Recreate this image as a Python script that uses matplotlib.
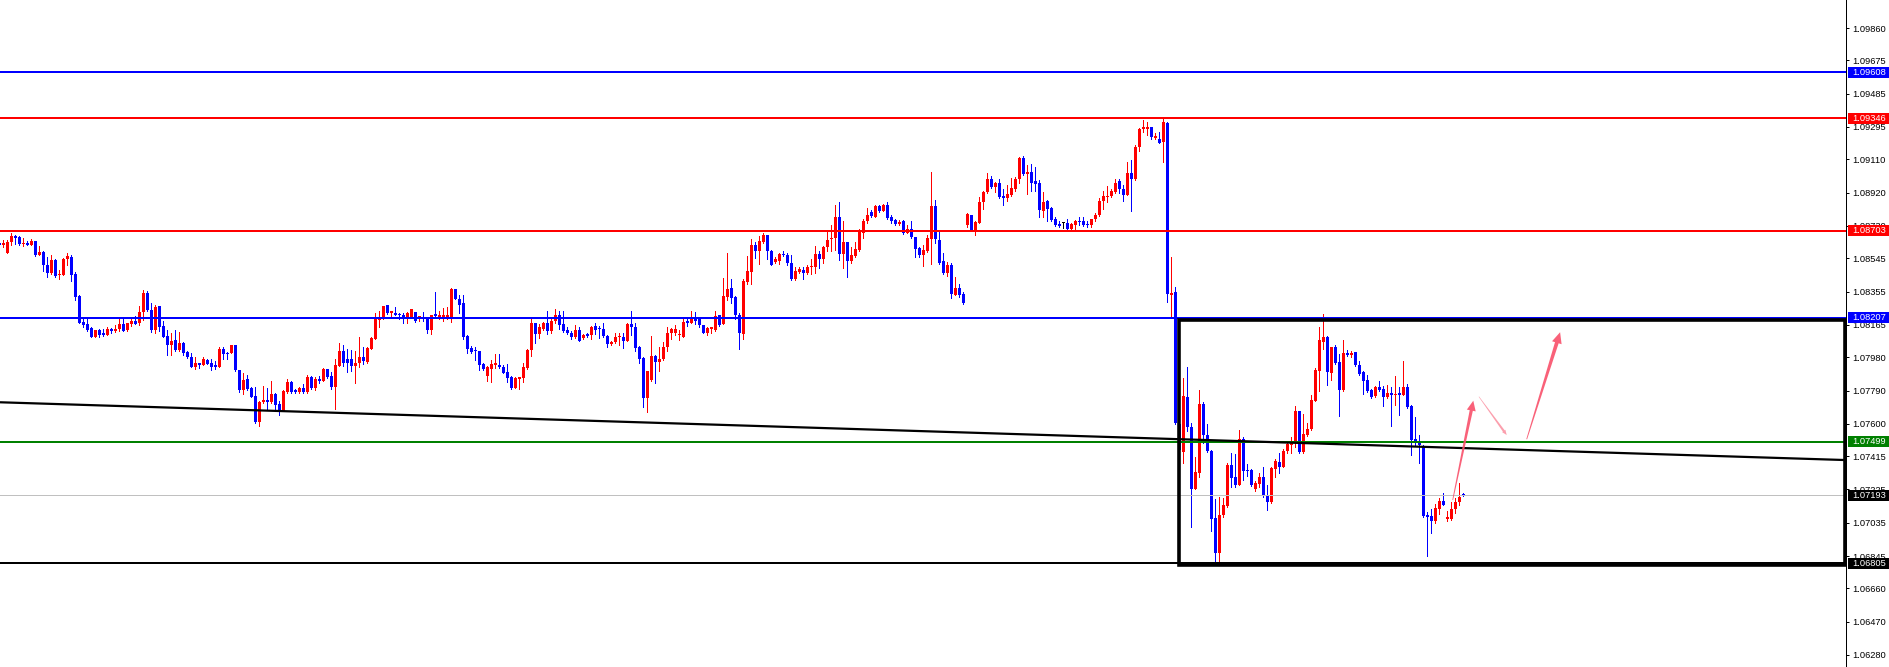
import matplotlib
matplotlib.use("Agg")
import matplotlib.pyplot as plt
import numpy as np
from matplotlib.patches import Rectangle, Polygon
from matplotlib.transforms import blended_transform_factory, IdentityTransform

plt.rcParams["font.family"] = ["Liberation Sans", "DejaVu Sans"]

# candle prices in points (1 point = 0.00001)
open_pts = [
    108635, 108619, 108578, 108638, 108673, 108669, 108627, 108635, 108623, 108642,
    108566, 108581, 108509, 108463, 108536, 108448, 108452, 108539, 108555, 108456,
    108330, 108182, 108170, 108147, 108094, 108136, 108117, 108109, 108140, 108132,
    108140, 108170, 108136, 108170, 108189, 108174, 108239, 108349, 108250, 108136,
    108273, 108159, 108102, 108052, 108079, 108022, 108060, 108010, 107984, 107927,
    107946, 107938, 107965, 107946, 107934, 107927, 108026, 108007, 108003, 108048,
    107907, 107793, 107858, 107804, 107759, 107610, 107724, 107736, 107724, 107770,
    107713, 107671, 107782, 107839, 107793, 107782, 107804, 107782, 107869, 107804,
    107854, 107846, 107911, 107873, 107812, 107930, 108014, 107968, 107968, 107930,
    107945, 107980, 107953, 108029, 108086, 108193, 108208, 108276, 108231, 108235,
    108227, 108223, 108208, 108208, 108238, 108208, 108212, 108200, 108136, 108227,
    108204, 108204, 108204, 108204, 108368, 108314, 108288, 108101, 108033, 108018,
    108014, 107941, 107873, 107915, 107938, 107938, 107927, 107896, 107870, 107805,
    107858, 107862, 107919, 108022, 108174, 108110, 108140, 108174, 108132, 108186,
    108220, 108170, 108136, 108121, 108098, 108136, 108091, 108113, 108106, 108159,
    108144, 108140, 108102, 108056, 108068, 108094, 108094, 108075, 108170, 108155,
    108041, 107976, 107748, 107851, 107988, 107953, 107972, 108037, 108117, 108121,
    108106, 108098, 108186, 108178, 108197, 108197, 108163, 108121, 108140, 108136,
    108220, 108170, 108326, 108376, 108326, 108224, 108113, 108410, 108467, 108619,
    108589, 108638, 108676, 108585, 108524, 108532, 108570, 108566, 108516, 108425,
    108467, 108478, 108459, 108494, 108494, 108570, 108543, 108612, 108653, 108661,
    108779, 108570, 108638, 108532, 108558, 108593, 108692, 108756, 108810, 108783,
    108844, 108817, 108851, 108779, 108764, 108741, 108760, 108692, 108711, 108665,
    108604, 108562, 108585, 108657, 108844, 108650, 108528, 108463, 108509, 108338,
    108376, 108341, 108737, 108791, 108707, 108749, 108867, 108924, 108996, 108954,
    108973, 108901, 108890, 108909, 108943, 108996, 109118, 109027, 109038, 108985,
    108977, 108817, 108874, 108832, 108772, 108741, 108749, 108745, 108715, 108737,
    108756, 108756, 108741, 108734, 108768, 108791, 108870, 108897, 108901, 108924,
    108985, 108943, 108909, 109034, 108996, 109183, 109282, 109285, 109297, 109232,
    109228, 109209, 109320, 108338, 108353, 107600, 107441, 107751, 107580, 107230,
    107321, 107713, 107535, 107447, 107063, 106865, 107078, 107131, 107367, 107299,
    107253, 107515, 107337, 107337, 107230, 107257, 107299, 107196, 107154, 107344,
    107382, 107356, 107443, 107481, 107496, 107675, 107439, 107538, 107569, 107732,
    107900, 108067, 108098, 107892, 108037, 107953, 107793, 108006, 107991, 108010,
    107938, 107896, 107850, 107793, 107759, 107812, 107801, 107755, 107778, 107767,
    107774, 107767, 107809, 107702, 107512, 107504, 107470, 107078, 107074, 107047,
    107116, 107158, 107059, 107059, 107112, 107154, 107200,
]
high_pts = [
    108646, 108650, 108650, 108688, 108680, 108673, 108661, 108646, 108657, 108646,
    108616, 108585, 108551, 108566, 108539, 108479, 108547, 108574, 108562, 108467,
    108334, 108208, 108208, 108151, 108136, 108144, 108140, 108155, 108147, 108163,
    108197, 108197, 108178, 108197, 108216, 108273, 108364, 108357, 108288, 108277,
    108273, 108189, 108136, 108117, 108136, 108125, 108067, 108018, 108003, 107980,
    107949, 107984, 107969, 107969, 107961, 108041, 108041, 108010, 108048, 108052,
    107910, 107890, 107877, 107808, 107812, 107728, 107816, 107804, 107843, 107778,
    107728, 107793, 107854, 107846, 107801, 107812, 107827, 107877, 107873, 107869,
    107873, 107919, 107915, 107896, 107968, 108059, 108048, 108025, 108021, 108018,
    108094, 108037, 108040, 108097, 108231, 108242, 108273, 108280, 108242, 108265,
    108231, 108231, 108238, 108257, 108238, 108215, 108238, 108204, 108223, 108352,
    108246, 108261, 108265, 108375, 108372, 108337, 108333, 108105, 108044, 108037,
    108018, 107945, 107930, 107964, 107999, 107999, 107938, 107942, 107873, 107866,
    107870, 107946, 108030, 108197, 108178, 108170, 108182, 108243, 108208, 108258,
    108247, 108243, 108155, 108129, 108167, 108155, 108110, 108117, 108159, 108178,
    108159, 108174, 108106, 108075, 108117, 108121, 108117, 108174, 108243, 108174,
    108045, 107984, 107900, 108102, 107995, 108037, 108068, 108151, 108148, 108163,
    108136, 108201, 108201, 108243, 108239, 108205, 108167, 108155, 108155, 108243,
    108224, 108433, 108574, 108429, 108330, 108231, 108429, 108558, 108653, 108638,
    108673, 108692, 108680, 108593, 108551, 108574, 108589, 108574, 108562, 108497,
    108494, 108494, 108509, 108543, 108615, 108585, 108615, 108707, 108737, 108851,
    108867, 108756, 108638, 108612, 108638, 108711, 108768, 108832, 108821, 108848,
    108851, 108855, 108867, 108791, 108772, 108764, 108764, 108737, 108760, 108669,
    108608, 108619, 108680, 109038, 108878, 108707, 108574, 108524, 108516, 108437,
    108399, 108353, 108802, 108794, 108760, 108897, 108928, 109030, 109015, 108981,
    109000, 108943, 108966, 109004, 109008, 109126, 109129, 109080, 109084, 109065,
    108992, 108924, 108878, 108840, 108779, 108756, 108749, 108772, 108745, 108764,
    108783, 108779, 108760, 108772, 108802, 108890, 108931, 108958, 108943, 109000,
    109000, 108962, 109095, 109106, 109190, 109289, 109335, 109323, 109297, 109259,
    109266, 109354, 109323, 108555, 108381, 107610, 107860, 107926, 107603, 107413,
    107793, 107725, 107599, 107451, 107169, 107181, 107177, 107378, 107432, 107428,
    107565, 107523, 107371, 107340, 107276, 107321, 107356, 107249, 107356, 107401,
    107436, 107455, 107496, 107527, 107702, 107675, 107656, 107603, 107767, 107919,
    108155, 108227, 108102, 108041, 108052, 107999, 108079, 108022, 108018, 108010,
    107961, 107900, 107877, 107801, 107816, 107847, 107816, 107820, 107812, 107873,
    107809, 107961, 107828, 107706, 107641, 107535, 107481, 107097, 107112, 107142,
    107177, 107203, 107104, 107154, 107177, 107260, 107205,
]
low_pts = [
    108612, 108608, 108574, 108623, 108627, 108619, 108616, 108619, 108619, 108558,
    108562, 108475, 108440, 108456, 108440, 108425, 108448, 108505, 108418, 108307,
    108178, 108151, 108128, 108094, 108094, 108098, 108102, 108106, 108121, 108125,
    108132, 108132, 108132, 108159, 108170, 108163, 108193, 108246, 108125, 108121,
    108132, 108094, 107995, 107991, 108018, 108018, 107995, 107976, 107923, 107911,
    107919, 107938, 107942, 107908, 107915, 107923, 107969, 107972, 108003, 107900,
    107782, 107770, 107793, 107755, 107603, 107587, 107721, 107686, 107721, 107686,
    107652, 107671, 107778, 107778, 107778, 107778, 107774, 107774, 107801, 107793,
    107831, 107843, 107862, 107797, 107686, 107930, 107930, 107896, 107903, 107835,
    107926, 107941, 107945, 108025, 108086, 108155, 108196, 108227, 108212, 108219,
    108196, 108177, 108177, 108208, 108181, 108185, 108189, 108120, 108113, 108208,
    108200, 108185, 108200, 108181, 108311, 108235, 108082, 108002, 108002, 107964,
    107907, 107907, 107846, 107839, 107919, 107919, 107889, 107839, 107801, 107805,
    107801, 107839, 107915, 107988, 108064, 108091, 108136, 108110, 108117, 108178,
    108144, 108125, 108110, 108083, 108091, 108071, 108087, 108098, 108087, 108110,
    108091, 108098, 108037, 108049, 108064, 108049, 108033, 108071, 108106, 108018,
    107946, 107698, 107668, 107847, 107832, 107904, 107965, 108014, 108087, 108106,
    108079, 108094, 108159, 108174, 108170, 108155, 108117, 108106, 108117, 108132,
    108159, 108170, 108307, 108292, 108201, 108026, 108086, 108399, 108399, 108547,
    108513, 108631, 108543, 108505, 108516, 108513, 108558, 108509, 108421, 108421,
    108459, 108429, 108456, 108456, 108463, 108490, 108516, 108589, 108589, 108593,
    108535, 108490, 108440, 108516, 108555, 108589, 108661, 108749, 108779, 108779,
    108810, 108813, 108768, 108749, 108737, 108737, 108684, 108688, 108661, 108555,
    108555, 108501, 108581, 108513, 108634, 108513, 108456, 108444, 108319, 108334,
    108326, 108284, 108722, 108703, 108680, 108745, 108829, 108916, 108947, 108924,
    108890, 108851, 108874, 108901, 108931, 108977, 109019, 108912, 108931, 108931,
    108783, 108779, 108760, 108760, 108730, 108722, 108718, 108715, 108703, 108711,
    108734, 108730, 108726, 108726, 108760, 108787, 108825, 108867, 108893, 108920,
    108920, 108874, 108905, 108817, 108992, 109160, 109266, 109251, 109224, 109224,
    109202, 109095, 108296, 108210, 107599, 107420, 107375, 107561, 107009, 107226,
    107299, 107493, 107439, 106990, 106811, 106808, 107070, 107123, 107241, 107241,
    107249, 107280, 107302, 107245, 107215, 107241, 107181, 107108, 107150, 107299,
    107321, 107352, 107436, 107432, 107466, 107436, 107436, 107531, 107565, 107729,
    107789, 108029, 107824, 107850, 107942, 107645, 107789, 107987, 107984, 107930,
    107881, 107770, 107782, 107748, 107751, 107786, 107702, 107748, 107588, 107706,
    107652, 107763, 107691, 107424, 107474, 107378, 107070, 106846, 106979, 107036,
    107085, 107135, 107047, 107051, 107089, 107139, 107190,
]
close_pts = [
    108619, 108635, 108638, 108673, 108661, 108627, 108635, 108623, 108642, 108566,
    108581, 108505, 108459, 108536, 108444, 108456, 108543, 108558, 108452, 108326,
    108178, 108166, 108136, 108094, 108136, 108109, 108109, 108140, 108132, 108144,
    108170, 108132, 108174, 108189, 108170, 108239, 108345, 108250, 108136, 108265,
    108155, 108098, 108048, 108075, 108022, 108060, 108007, 107980, 107927, 107946,
    107938, 107969, 107942, 107927, 107927, 108026, 107999, 107999, 108048, 107907,
    107793, 107850, 107801, 107755, 107610, 107724, 107736, 107724, 107770, 107709,
    107671, 107785, 107839, 107782, 107782, 107804, 107782, 107865, 107804, 107858,
    107846, 107911, 107865, 107812, 107934, 108014, 107949, 107949, 107930, 107945,
    107980, 107957, 108033, 108090, 108196, 108208, 108273, 108231, 108242, 108223,
    108219, 108196, 108235, 108254, 108189, 108212, 108200, 108136, 108219, 108215,
    108223, 108219, 108223, 108368, 108314, 108280, 108097, 108029, 108010, 108014,
    107938, 107911, 107922, 107941, 107946, 107923, 107892, 107862, 107805, 107862,
    107866, 107923, 108022, 108174, 108110, 108151, 108174, 108132, 108186, 108224,
    108167, 108132, 108117, 108098, 108136, 108075, 108106, 108102, 108155, 108136,
    108140, 108102, 108056, 108068, 108098, 108098, 108071, 108170, 108155, 108033,
    107972, 107748, 107900, 107988, 107953, 107972, 108037, 108121, 108140, 108144,
    108113, 108182, 108178, 108197, 108189, 108163, 108121, 108148, 108151, 108216,
    108167, 108330, 108372, 108319, 108224, 108117, 108418, 108475, 108619, 108589,
    108646, 108676, 108585, 108509, 108543, 108570, 108562, 108516, 108429, 108471,
    108482, 108459, 108497, 108497, 108570, 108543, 108612, 108650, 108661, 108779,
    108570, 108638, 108532, 108562, 108600, 108695, 108760, 108791, 108787, 108844,
    108817, 108848, 108775, 108756, 108741, 108752, 108692, 108715, 108665, 108600,
    108562, 108593, 108661, 108844, 108653, 108520, 108463, 108505, 108341, 108376,
    108334, 108288, 108798, 108707, 108752, 108867, 108924, 108996, 108950, 108973,
    108897, 108890, 108912, 108947, 109000, 109118, 109027, 109038, 108977, 108969,
    108821, 108867, 108829, 108764, 108734, 108730, 108749, 108715, 108741, 108756,
    108753, 108737, 108734, 108768, 108791, 108870, 108901, 108901, 108928, 108977,
    108939, 108909, 109034, 109000, 109183, 109285, 109293, 109297, 109236, 109243,
    109205, 109323, 108341, 108349, 107605, 107450, 107759, 107580, 107230, 107325,
    107713, 107535, 107447, 107059, 106865, 107078, 107135, 107367, 107291, 107253,
    107515, 107333, 107333, 107249, 107260, 107299, 107192, 107154, 107348, 107386,
    107352, 107447, 107485, 107500, 107675, 107439, 107542, 107573, 107736, 107907,
    108079, 108098, 107896, 108037, 107949, 107793, 108006, 107995, 108006, 107938,
    107885, 107847, 107786, 107755, 107809, 107793, 107755, 107778, 107763, 107770,
    107767, 107809, 107698, 107508, 107500, 107477, 107074, 107070, 107047, 107120,
    107158, 107139, 107066, 107112, 107154, 107184, 107193,
]

# horizontal levels drawn on the chart and their price tags
level_prices = [1.09608, 1.09346, 1.08703, 1.08207, 1.07499, 1.07193, 1.06805]
level_colors = ["#0000ff", "#ff0000", "#ff0000", "#0000ff", "#008000", "#c0c0c0", "#000000"]
level_widths = [1.44, 1.44, 1.44, 1.44, 1.44, 0.72, 1.44]
tag_colors = ["#0000ff", "#ff0000", "#ff0000", "#0000ff", "#008000", "#000000", "#000000"]

axis_ticks = [1.09860, 1.09675, 1.09485, 1.09295, 1.09110, 1.08920, 1.08730, 1.08545,
              1.08355, 1.08165, 1.07980, 1.07790, 1.07600, 1.07415, 1.07225, 1.07035,
              1.06845, 1.06660, 1.06470, 1.06280]

# sloped trend line (bar index, price)
trend_x = [0.175, 461.675]
trend_y = [1.07723, 1.07393]

# range box
box_x = [294.9, 461.4]
box_y = [1.06794, 1.08190]

# hand-drawn arrows: tail and head (bar index, price)
arrow_tails = [(363.35, 1.07165), (369.9, 1.07755), (381.85, 1.07512)]
arrow_heads = [(368.5, 1.07732), (376.85, 1.07536), (390.2, 1.08123)]
arrow_alpha = [0.9, 0.55, 0.9]

o = np.array(open_pts) / 1e5
h = np.array(high_pts) / 1e5
l = np.array(low_pts) / 1e5
c = np.array(close_pts) / 1e5
idx = np.arange(len(o))

fig = plt.figure(figsize=(18.9, 6.67), dpi=100)
ax = fig.add_axes([0, 0, 1846 / 1890, 1])
ax.set_xlim(0.175, 461.675)
ax.set_ylim(1.062114, 1.10020)
ax.set_autoscale_on(False)

colors = np.where(c > o, "#ff0000", np.where(c < o, "#0000ff", "#000000"))
ax.vlines(idx, l, h, colors=colors, linewidth=0.72, antialiased=False, zorder=2)
body = np.maximum(np.abs(c - o), 0.00006)
ax.bar(idx, body, bottom=np.minimum(o, c), width=0.75, color=colors,
       linewidth=0, antialiased=False, zorder=2.1)

for price, col, lw in zip(level_prices, level_colors, level_widths):
    ax.axhline(price, color=col, lw=lw, zorder=3)

ax.plot(trend_x, trend_y, color="black", lw=1.6, zorder=3, solid_capstyle="butt")

ax.add_patch(Rectangle((box_x[0], box_y[0]), box_x[1] - box_x[0], box_y[1] - box_y[0],
                       fill=False, ec="black", lw=2.6, zorder=4, clip_on=False,
                       joinstyle="miter"))

# right price scale
for side in ["left", "top", "bottom"]:
    ax.spines[side].set_visible(False)
ax.spines["right"].set_linewidth(0.72)
ax.set_xticks([])
ax.yaxis.tick_right()
ax.set_yticks(axis_ticks)
ax.set_yticklabels([f"{v:.5f}" for v in axis_ticks])
ax.tick_params(axis="y", length=2.2, width=0.72, pad=2.2, labelsize=6.7, direction="out")

trans = blended_transform_factory(ax.transAxes, ax.transData)
tag_h = 11 * 0.0000571
for price, col in zip(level_prices, tag_colors):
    ax.add_patch(Rectangle((1 + 2 / 1846, price - tag_h / 2), 44 / 1846, tag_h,
                           transform=trans, fc=col, ec="none", clip_on=False, zorder=5))
    ax.text(1 + 6 / 1846, price, f"{price:.5f}", transform=trans, color="white",
            fontsize=6.7, va="center", ha="left", zorder=6, clip_on=False)


def tapered_arrow(tail, head, w_tail, w_neck, head_w, head_len, alpha):
    p0 = ax.transData.transform(tail)
    p1 = ax.transData.transform(head)
    u = (p1 - p0) / np.hypot(*(p1 - p0))
    n = np.array([-u[1], u[0]])
    neck = p1 - u * head_len
    pts = [p0 + n * w_tail / 2, neck + n * w_neck / 2, neck + n * head_w / 2, p1,
           neck - n * head_w / 2, neck - n * w_neck / 2, p0 - n * w_tail / 2]
    ax.add_artist(Polygon(pts, closed=True, transform=IdentityTransform(),
                          fc="#f9506a", ec="none", alpha=alpha, zorder=6, clip_on=False))


tapered_arrow(arrow_tails[0], arrow_heads[0], 0.8, 3.2, 9, 10, arrow_alpha[0])
tapered_arrow(arrow_tails[1], arrow_heads[1], 0.5, 2.2, 4, 5, arrow_alpha[1])
tapered_arrow(arrow_tails[2], arrow_heads[2], 0.8, 3.8, 10, 11, arrow_alpha[2])

fig.savefig("out.png", dpi=100, facecolor="white")
